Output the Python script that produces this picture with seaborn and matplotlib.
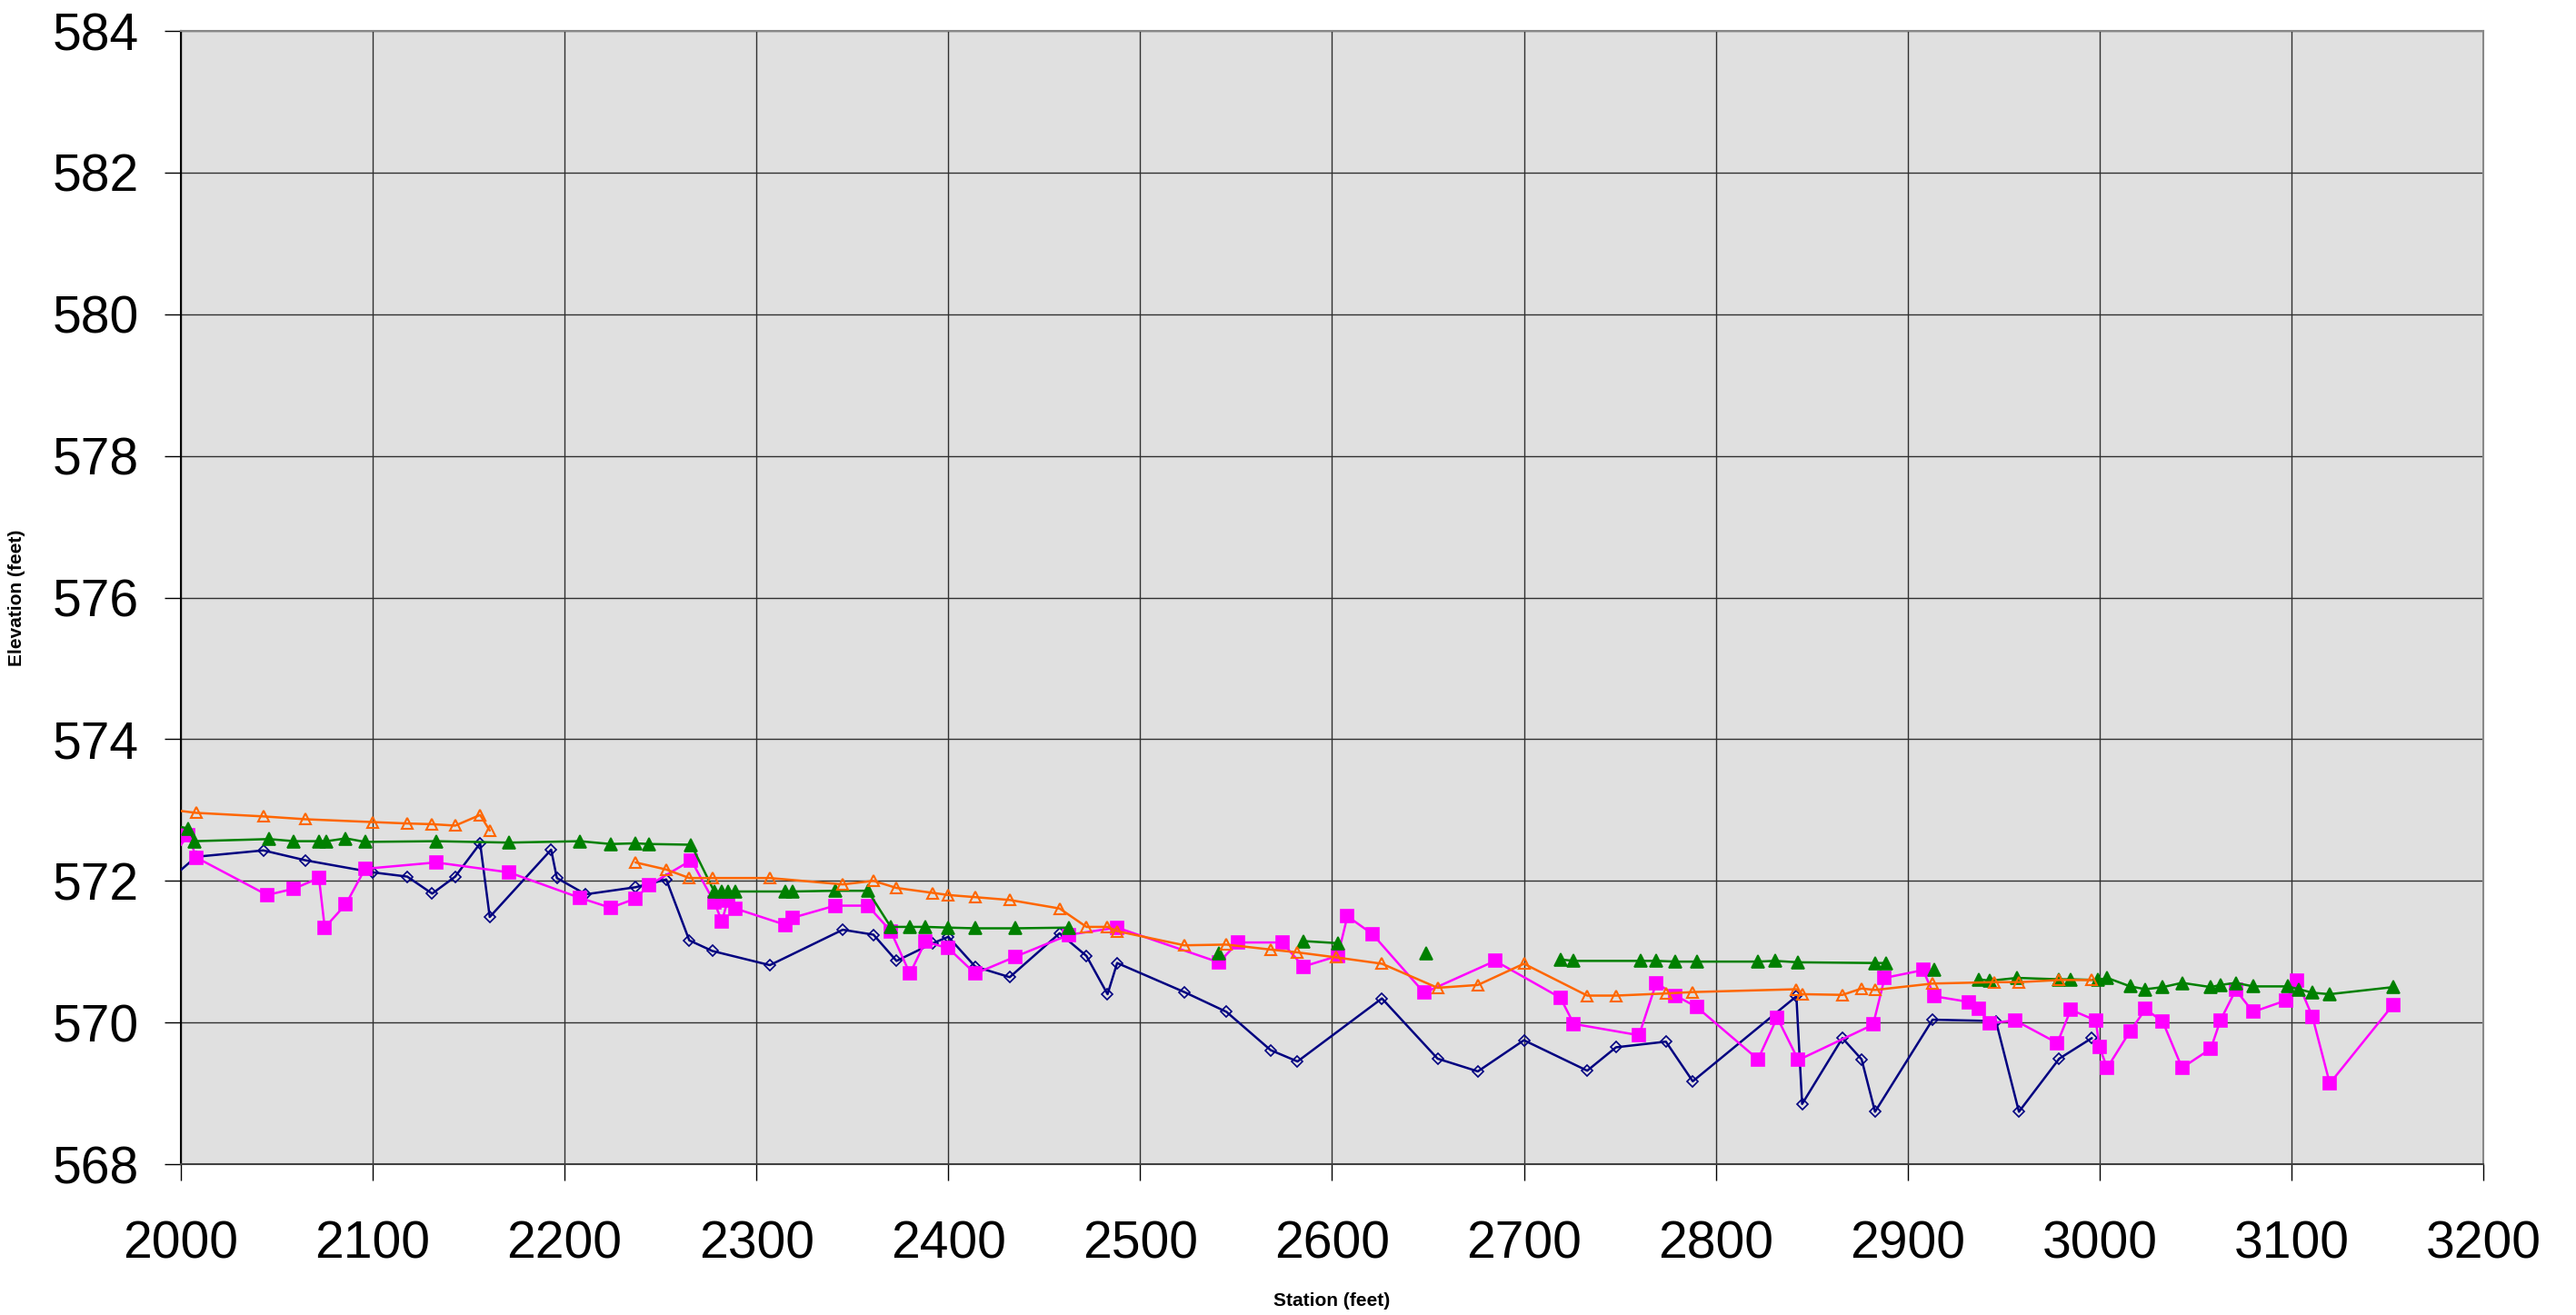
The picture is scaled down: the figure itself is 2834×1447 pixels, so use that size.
import numpy as np
import pandas as pd
import matplotlib
matplotlib.use("Agg")
import matplotlib.pyplot as plt
import seaborn as sns

# Stream-bed profile: station (ft) vs elevation (ft) for four surveys.
# NaN entries break a line into separate runs.
nan = np.nan

survey_a_station = [1996, 2008, 2043, 2065, 2100, 2118, 2131, 2143, 2156, 2161,
                    2193, 2196, 2211, 2237, 2253, 2265, 2277, 2307, 2345, 2361,
                    2373, 2392, 2400, 2414, 2432, 2458, 2472, 2483, 2488, 2523,
                    2545, 2568, 2582, 2626, 2655, 2676, 2700, 2733, 2748, 2774,
                    2788, 2842, 2845, 2866, 2876, 2883, 2913, 2946, 2958, 2979,
                    2996]
survey_a_elev = [572.06, 572.34, 572.43, 572.29, 572.12, 572.06, 571.82, 572.06, 572.53, 571.49,
                 572.44, 572.04, 571.81, 571.91, 572.02, 571.16, 571.01, 570.81, 571.31, 571.24,
                 570.87, 571.12, 571.21, 570.79, 570.64, 571.26, 570.94, 570.40, 570.84, 570.43,
                 570.15, 569.61, 569.45, 570.34, 569.49, 569.31, 569.75, 569.32, 569.65, 569.73,
                 569.17, 570.37, 568.85, 569.78, 569.48, 568.74, 570.04, 570.02, 568.74, 569.49,
                 569.78]

survey_b_station = [1996, 2004, 2008, 2045, 2059, 2072, 2075, 2086, 2096, 2133,
                    2171, 2208, 2224, 2237, 2244, 2266, 2278, 2282, 2285, 2289,
                    2315, 2319, 2341, 2358, 2370, 2380, 2388, 2400, 2414, 2435,
                    2463, 2488, 2541, 2551, 2574, 2585, 2603, 2608, 2621, 2648,
                    2685, 2719, 2726, 2760, 2769, 2779, 2790, 2822, 2832, 2843,
                    2882, 2888, 2908, 2914, 2932, 2937, 2943, 2956, 2978, 2985,
                    2998, 3000, 3004, 3016, 3024, 3033, 3043, 3058, 3063, 3071,
                    3080, 3097, 3103, 3111, 3120, 3153]
survey_b_elev = [572.38, 572.64, 572.33, 571.80, 571.89, 572.04, 571.34, 571.67, 572.17, 572.26,
                 572.12, 571.76, 571.62, 571.75, 571.94, 572.29, 571.70, 571.43, 571.72, 571.61,
                 571.38, 571.48, 571.65, 571.65, 571.29, 570.69, 571.14, 571.05, 570.69, 570.93,
                 571.24, 571.34, 570.85, 571.13, 571.13, 570.79, 570.94, 571.50, 571.25, 570.42,
                 570.87, 570.35, 569.98, 569.82, 570.56, 570.38, 570.22, 569.48, 570.07, 569.47,
                 569.97, 570.63, 570.74, 570.37, 570.29, 570.19, 569.99, 570.03, 569.71, 570.18,
                 570.03, 569.65, 569.36, 569.88, 570.19, 570.01, 569.36, 569.63, 570.03, 570.46,
                 570.15, 570.31, 570.59, 570.08, 569.14, 570.25]

survey_c_station = [1996, 2004, 2007, 2046, 2059, 2072, 2076, 2086, 2096, 2133,
                    2171, 2208, 2224, 2237, 2244, 2266, 2278, 2282, 2285, 2289,
                    2315, 2319, 2341, 2358, 2370, 2380, 2388, 2400, 2414, 2435,
                    2463, nan, 2541, nan, 2585, 2603, nan, 2649, nan, 2719,
                    2726, 2761, 2769, 2779, 2790, 2822, 2831, 2843, 2883, 2889,
                    nan, 2914, nan, 2937, 2943, 2957, 2979, 2985, 2999, 3004,
                    3016, 3024, 3033, 3043, 3058, 3063, 3071, 3080, 3098, 3104,
                    3111, 3120, 3153]
survey_c_elev = [572.78, 572.74, 572.56, 572.59, 572.56, 572.56, 572.56, 572.60, 572.55, 572.56,
                 572.54, 572.56, 572.52, 572.53, 572.52, 572.51, 571.85, 571.85, 571.85, 571.85,
                 571.85, 571.85, 571.86, 571.86, 571.35, 571.35, 571.35, 571.34, 571.33, 571.33,
                 571.34, nan, 570.98, nan, 571.15, 571.12, nan, 570.98, nan, 570.89,
                 570.87, 570.87, 570.87, 570.86, 570.86, 570.86, 570.87, 570.85, 570.84, 570.84,
                 nan, 570.75, nan, 570.61, 570.59, 570.63, 570.61, 570.61, 570.60, 570.63,
                 570.51, 570.47, 570.50, 570.56, 570.50, 570.53, 570.56, 570.51, 570.51, 570.47,
                 570.42, 570.40, 570.50]

survey_d_station = [1996, 2008, 2043, 2065, 2100, 2118, 2131, 2143, 2156, 2161,
                    nan, 2237, 2253, 2265, 2277, 2307, 2345, 2361, 2373, 2392,
                    2400, 2414, 2432, 2458, 2472, 2483, 2488, 2523, 2545, 2568,
                    2582, 2602, 2626, 2655, 2676, 2700, 2733, 2748, 2774, 2788,
                    2842, 2845, 2866, 2876, 2883, 2913, 2945, 2958, 2979, 2996]
survey_d_elev = [573.00, 572.96, 572.91, 572.87, 572.83, 572.81, 572.80, 572.78, 572.93, 572.71,
                 nan, 572.26, 572.16, 572.04, 572.04, 572.04, 571.95, 572.00, 571.90, 571.83,
                 571.80, 571.77, 571.73, 571.61, 571.35, 571.35, 571.29, 571.09, 571.10, 571.03,
                 570.99, 570.92, 570.83, 570.49, 570.53, 570.83, 570.38, 570.38, 570.41, 570.43,
                 570.47, 570.40, 570.39, 570.48, 570.46, 570.55, 570.57, 570.57, 570.60, 570.60]

x_ticks = list(range(2000, 3201, 100))
y_ticks = list(range(568, 585, 2))


def to_frame(station, elev):
    df = pd.DataFrame({"station": station, "elev": elev})
    df["run"] = df["elev"].isna().cumsum()
    return df.dropna().reset_index(drop=True)


sns.set_theme(style="white")
plt.rcParams["font.family"] = ["Liberation Sans", "DejaVu Sans"]

fig = plt.figure(figsize=(14.17, 7.235), dpi=200)
ax = fig.add_axes([0.0702, 0.1147, 0.964 - 0.0702, 0.9765 - 0.1147])
ax.set_facecolor("#E0E0E0")

styles = [
    (survey_a_station, survey_a_elev, dict(color="#000080", marker="D", markersize=3.0,
                                          markerfacecolor="none", markeredgecolor="#000080",
                                          markeredgewidth=0.6)),
    (survey_b_station, survey_b_elev, dict(color="#FF00FF", marker="s", markersize=5.2,
                                          markerfacecolor="#FF00FF", markeredgecolor="#FF00FF",
                                          markeredgewidth=0.6)),
    (survey_c_station, survey_c_elev, dict(color="#008000", marker="^", markersize=4.8,
                                          markerfacecolor="#008000", markeredgecolor="#008000",
                                          markeredgewidth=0.6)),
    (survey_d_station, survey_d_elev, dict(color="#FF6600", marker="^", markersize=4.6,
                                          markerfacecolor="none", markeredgecolor="#FF6600",
                                          markeredgewidth=0.75)),
]

for z, (st, el, kw) in enumerate(styles):
    df = to_frame(st, el)
    sns.lineplot(data=df, x="station", y="elev", units="run", estimator=None,
                 sort=False, legend=False, linewidth=0.9, ax=ax, zorder=3 + z, **kw)

ax.set_xlim(2000, 3200)
ax.set_ylim(568, 584)
ax.set_xticks(x_ticks)
ax.set_yticks(y_ticks)
ax.set_xticklabels([str(v) for v in x_ticks])
ax.set_yticklabels([str(v) for v in y_ticks])

ax.grid(True, color="#303030", linewidth=0.5)
ax.set_axisbelow(True)

ax.tick_params(axis="both", which="major", direction="out", length=6.5, width=0.5,
               color="black", labelsize=20.5, labelcolor="black")
ax.tick_params(axis="y", pad=10, left=True)
ax.tick_params(axis="x", pad=15.5, bottom=True)

for side, col, lw in [("left", "black", 0.75), ("bottom", "#404040", 0.75),
                      ("top", "#888888", 0.75), ("right", "#888888", 0.75)]:
    ax.spines[side].set_visible(True)
    ax.spines[side].set_color(col)
    ax.spines[side].set_linewidth(lw)

ax.set_xlabel("Station (feet)", fontsize=7.5, fontweight="bold", color="black")
ax.set_ylabel("Elevation (feet)", fontsize=7.5, fontweight="bold", color="black")
ax.xaxis.set_label_coords(0.5, -0.113)
ax.yaxis.set_label_coords(-0.0675, 0.5)

fig.savefig("out.png", dpi=200, facecolor="white")
